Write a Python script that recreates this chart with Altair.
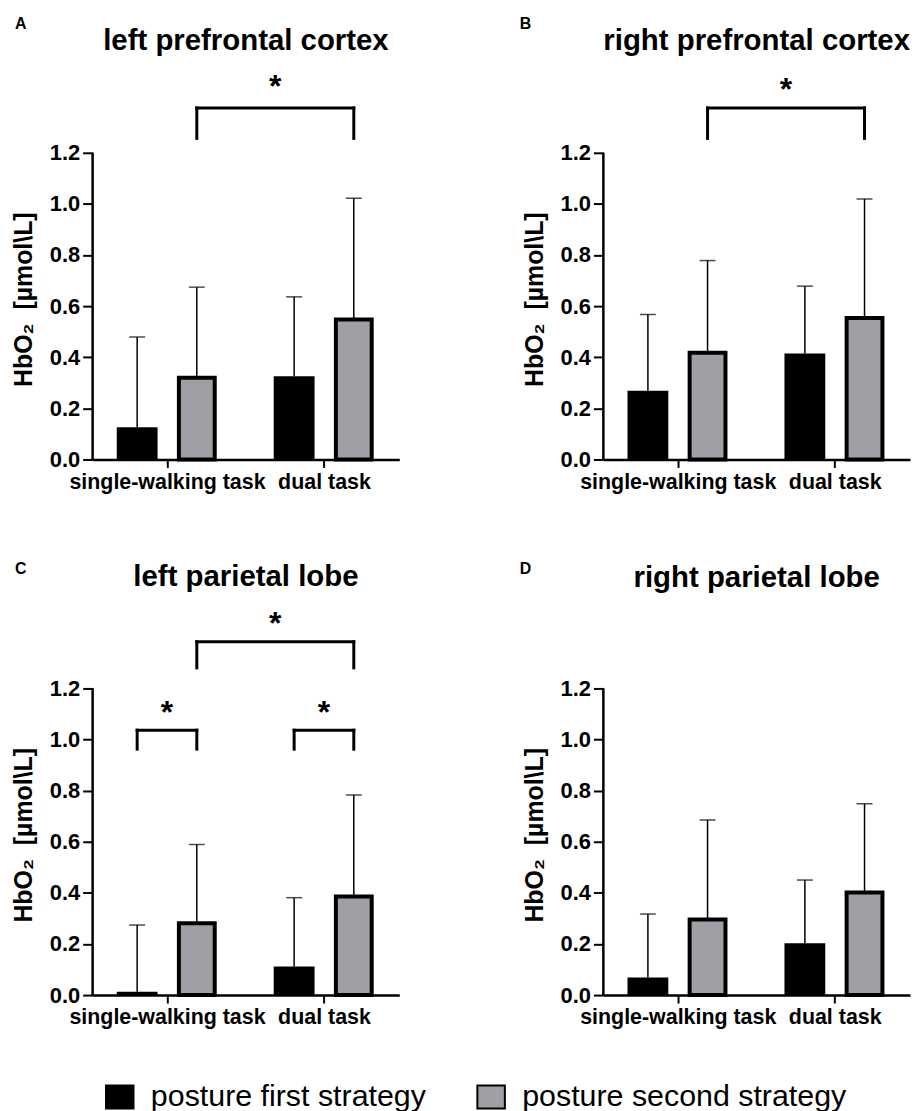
import json
import altair as alt
import pandas as pd

# ---------------- data ----------------
TASKS = ["single-walking task", "dual task"]
STRATEGIES = ["posture first strategy", "posture second strategy"]
PANEL_TITLES = ["left prefrontal cortex", "right prefrontal cortex",
                "left parietal lobe", "right parietal lobe"]
PANEL_LETTERS = ["A", "B", "C", "D"]
Y_TICKS = [0.0, 0.2, 0.4, 0.6, 0.8, 1.0, 1.2]
Y_TITLE = "HbO\u2082\u00a0\u00a0[\u00b5mol\\L]"

# order: (single, first), (single, second), (dual, first), (dual, second)
MEAN_A = [0.126, 0.320, 0.325, 0.547]
ERR_A = [0.479, 0.674, 0.636, 1.022]
MEAN_B = [0.269, 0.417, 0.414, 0.553]
ERR_B = [0.567, 0.778, 0.678, 1.019]
MEAN_C = [0.013, 0.281, 0.112, 0.386]
ERR_C = [0.274, 0.589, 0.381, 0.783]
MEAN_D = [0.069, 0.296, 0.203, 0.401]
ERR_D = [0.317, 0.685, 0.450, 0.748]

# significance brackets: from (task, strategy) to (task, strategy), top, foot, star level
SIG_A = [(0, 1, 1, 1, 1.375, 1.256, 1.480)]
SIG_B = [(0, 1, 1, 1, 1.375, 1.256, 1.470)]
SIG_C = [(0, 1, 1, 1, 1.382, 1.280, 1.475),
         (0, 0, 0, 1, 1.036, 0.962, 1.125),
         (1, 0, 1, 1, 1.036, 0.962, 1.125)]
SIG_D = []

# ---------------- style ----------------
FONT = "Liberation Sans"
GRAY = "#9fa0a5"
W, H = 308, 398
Y_MAX = 1.55
X_DOM = [-0.442, 1.448]
OFF = 0.19

XS = alt.Scale(domain=X_DOM, nice=False, zero=False)
YS = alt.Scale(domain=[0, Y_MAX], nice=False, zero=True)

XAXIS = alt.Axis(values=[0, 1], labelExpr=f"{json.dumps(TASKS)}[datum.value]",
                 title=None, grid=False, domainColor="black", domainWidth=2.5,
                 tickColor="black", tickWidth=2, tickSize=8,
                 labelFont=FONT, labelFontSize=21.5, labelFontWeight="bold",
                 labelColor="black", labelPadding=4, labelAngle=0,
                 labelFlush=False, labelOverlap=False, labelLimit=0)

YAXIS = alt.Axis(values=Y_TICKS, format=".1f", domain=False, grid=False,
                 tickColor="black", tickWidth=2, tickSize=10,
                 labelFont=FONT, labelFontSize=22, labelFontWeight="bold",
                 labelColor="black", labelPadding=3, labelOverlap=False,
                 title=Y_TITLE, titleFont=FONT, titleFontSize=25,
                 titleFontWeight="bold", titleColor="black",
                 titleX=-61, titleY=237, titleAngle=270,
                 titleAlign="center", titleBaseline="alphabetic", titleLimit=0)

FILL = alt.Fill("strategy:N",
                scale=alt.Scale(domain=STRATEGIES, range=["black", GRAY]),
                legend=alt.Legend(orient="none", legendX=12, legendY=1023,
                                  direction="horizontal", title=None,
                                  symbolType="M-1.2,-1H1.2V1H-1.2Z",
                                  symbolSize=529, symbolStrokeColor="black",
                                  symbolStrokeWidth=2, labelFont=FONT,
                                  labelFontSize=30.5, labelColor="black",
                                  labelOffset=16, columnPadding=47, padding=0,
                                  labelLimit=0))

POS = lambda t, s: f"datum.{t} + (datum.{s} == 1 ? {OFF} : {-OFF})"


def X(f):
    return alt.X(f, type="quantitative", scale=XS, axis=XAXIS)


def Y(f):
    return alt.Y(f, type="quantitative", scale=YS, axis=YAXIS)


def panel(i, means, errs, sigs, letter_x, letter_y, head_y):
    rows = []
    k = 0
    for ti, t in enumerate(TASKS):
        for si, s in enumerate(STRATEGIES):
            rows.append(dict(task=t, task_i=ti, strategy=s, strat_i=si,
                             mean=means[k], err=errs[k]))
            k += 1
    df = pd.DataFrame(rows)
    base = alt.Chart(df).transform_calculate(xpos=POS("task_i", "strat_i"))

    black = base.transform_filter(alt.datum.strat_i == 0).mark_bar(
        size=41, strokeWidth=0).encode(x=X("xpos"), y=Y("mean"), fill=FILL)
    gray = base.transform_filter(alt.datum.strat_i == 1).mark_bar(
        size=36, stroke="black", strokeWidth=4).encode(
        x=X("xpos"), y=Y("mean"), fill=FILL)
    err = base.mark_rule(color="black", strokeWidth=1.5).encode(
        x=X("xpos"), y=Y("mean"), y2="err")
    cap = base.mark_tick(color="black", orient="horizontal", size=16,
                         thickness=1.5).encode(x=X("xpos"), y=Y("err"))

    yline = alt.Chart(pd.DataFrame({"lo": [0.0], "hi": [Y_TICKS[-1]]})).mark_rule(
        color="black", strokeWidth=2.5).encode(
        x=alt.value(0), y=Y("lo"), y2="hi")

    layers = [black, gray, err, cap, yline]

    if sigs:
        sdf = pd.DataFrame(sigs, columns=["t1", "s1", "t2", "s2", "top", "foot", "star"])
        sb = alt.Chart(sdf).transform_calculate(
            x1=POS("t1", "s1"), x2=POS("t2", "s2")).transform_calculate(
            xm="(datum.x1 + datum.x2) / 2")
        horiz = sb.mark_rule(color="black", strokeWidth=3, strokeCap="square").encode(
            x=X("x1"), x2="x2", y=Y("top"))
        left = sb.mark_rule(color="black", strokeWidth=3, strokeCap="square").encode(
            x=X("x1"), y=Y("top"), y2="foot")
        right = sb.mark_rule(color="black", strokeWidth=3, strokeCap="square").encode(
            x=X("x2"), y=Y("top"), y2="foot")
        star = sb.mark_text(font=FONT, fontSize=32, fontWeight="bold",
                            color="black", baseline="alphabetic", align="center",
                            dy=16).encode(x=X("xm"), y=Y("star"), text=alt.value("*"))
        layers += [horiz, left, right, star]

    head = alt.Chart(pd.DataFrame({"label": [PANEL_TITLES[i]]})).mark_text(
        font=FONT, fontSize=29.5, fontWeight="bold", color="black",
        align="center", baseline="alphabetic").encode(
        text="label:N", x=alt.value(W / 2), y=alt.value(head_y))
    letter = alt.Chart(pd.DataFrame({"label": [PANEL_LETTERS[i]]})).mark_text(
        font=FONT, fontSize=16, fontWeight="bold", color="black",
        align="left", baseline="alphabetic").encode(
        text="label:N", x=alt.value(letter_x), y=alt.value(letter_y))
    layers += [head, letter]

    return alt.layer(*layers).properties(width=W, height=H)


pA = panel(0, MEAN_A, ERR_A, SIG_A, -78, -34, -13)
pB = panel(1, MEAN_B, ERR_B, SIG_B, -84, -34, -13)
pC = panel(2, MEAN_C, ERR_C, SIG_C, -78, -24.5, -13)
pD = panel(3, MEAN_D, ERR_D, SIG_D, -84, -24.5, -12)

row1 = alt.hconcat(pA, pB, spacing=121)
row2 = alt.hconcat(pC, pD, spacing=121)

chart = alt.vconcat(row1, row2, spacing=68).resolve_scale(
    fill="shared").resolve_legend(fill="shared").properties(
    padding={"left": 4, "top": 6, "right": 0, "bottom": 0},
    background="white").configure_view(stroke=None)

chart.save("out.html", embed_options={"renderer": "svg", "actions": False})
